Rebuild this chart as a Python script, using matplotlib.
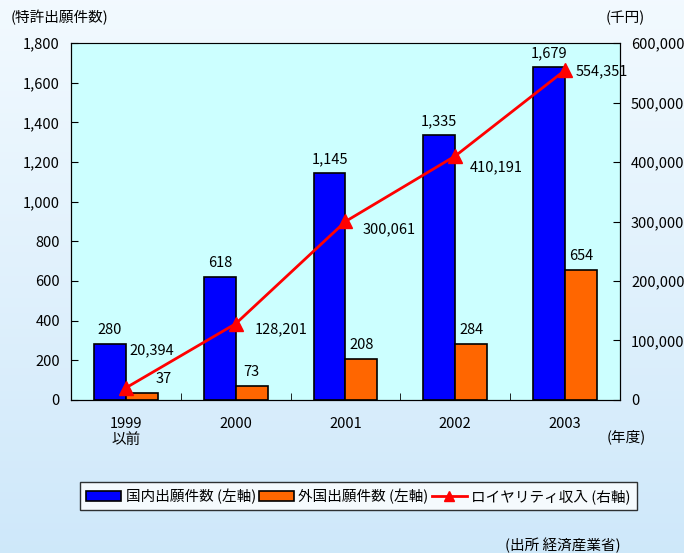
import numpy as np
import matplotlib
matplotlib.use("Agg")
import matplotlib.pyplot as plt

plt.rcParams['font.family'] = ['Noto Sans CJK JP', 'DejaVu Sans']

# 年度別データ
years = ["1999\n以前", "2000", "2001", "2002", "2003"]
domestic = [280, 618, 1145, 1335, 1679]
foreign = [37, 73, 208, 284, 654]
royalty = [20394, 128201, 300061, 410191, 554351]

fig = plt.figure(figsize=(6.84, 5.53), dpi=100)

# 背景のグラデーション
bg = fig.add_axes([0, 0, 1, 1], zorder=-10)
grad = np.linspace(0, 1, 256).reshape(-1, 1)
top = np.array([0.95, 0.98, 1.0])
bot = np.array([0.81, 0.91, 0.98])
img = top + (bot - top) * grad[:, :, None]
bg.imshow(img, aspect='auto', extent=[0, 1, 0, 1])
bg.axis('off')

ax = fig.add_axes([0.1038, 0.2767, 0.8026, 0.6455])
ax.set_facecolor('#CCFFFF')
x = np.arange(len(years))
w = 0.29
b1 = ax.bar(x - w / 2, domestic, w, color='#0000FF', edgecolor='black', linewidth=1.2,
            label='国内出願件数 (左軸)', zorder=2)
b2 = ax.bar(x + w / 2, foreign, w, color='#FF6600', edgecolor='black', linewidth=1.2,
            label='外国出願件数 (左軸)', zorder=2)
ax.set_xlim(-0.5, 4.5)
ax.set_ylim(0, 1800)
ax.set_yticks(range(0, 1801, 200))
ax.set_yticklabels([f"{v:,}" for v in range(0, 1801, 200)], fontsize=10.5)
ax.set_xticks(x)
ax.set_xticklabels(years, fontsize=10.5)
ax.tick_params(axis='x', length=0, pad=12)
ax.set_xticks(np.arange(0.5, 4.5, 1), minor=True)
ax.tick_params(axis='x', which='minor', direction='in', length=5)
ax.tick_params(axis='y', direction='in', length=5, pad=8)
ax.spines['top'].set_color('#808080')
for s in ['left', 'bottom', 'right']:
    ax.spines[s].set_color('black')

# 棒の上の件数ラベル
for i in range(len(years)):
    ax.annotate(f"{domestic[i]:,}", (x[i] - w / 2, domestic[i]), xytext=(0, 7),
                textcoords='offset pixels', ha='center', va='bottom', fontsize=10.5)
    dx = 22 if i == 0 else 0
    ax.annotate(f"{foreign[i]:,}", (x[i] + w / 2, foreign[i]), xytext=(dx, 7),
                textcoords='offset pixels', ha='center', va='bottom', fontsize=10.5)

ax2 = ax.twinx()
ln, = ax2.plot(x, royalty, color='#FF0000', linewidth=2, marker='^', markersize=10,
               label='ロイヤリティ収入 (右軸)', zorder=3)
ax2.set_ylim(0, 600000)
ax2.set_yticks(range(0, 600001, 100000))
ax2.set_yticklabels([f"{v:,}" for v in range(0, 600001, 100000)], fontsize=10.5)
ax2.tick_params(axis='y', direction='in', length=5, pad=8)

# ロイヤリティ収入のラベル (点からのずれ, pixel)
offsets = [(4, 38), (19, -6), (17, -8), (14, -11), (11, -1)]
for i, v in enumerate(royalty):
    ax2.annotate(f"{v:,}", (x[i], v), xytext=offsets[i], textcoords='offset pixels',
                 ha='left', va='center', fontsize=10.5)

fig.text(0.015, 0.968, "(特許出願件数)", fontsize=10.5, ha='left', va='center')
fig.text(0.885, 0.968, "(千円)", fontsize=10.5, ha='left', va='center')
fig.text(0.887, 0.21, "(年度)", fontsize=10.5, ha='left', va='center')
fig.text(0.907, 0.014, "(出所 経済産業省)", fontsize=10.5, ha='right', va='center')

leg = fig.legend(handles=[b1, b2, ln], loc='center', bbox_to_anchor=(0.524, 0.103), ncol=3,
                 fontsize=10.5, frameon=True, fancybox=False, edgecolor='black',
                 handlelength=2.4, handletextpad=0.3, columnspacing=0.2, borderpad=0.45,
                 borderaxespad=0)
leg.get_frame().set_linewidth(1.0)
leg.legend_handles[2].set_markersize(7)

fig.savefig("out.png", dpi=100)
